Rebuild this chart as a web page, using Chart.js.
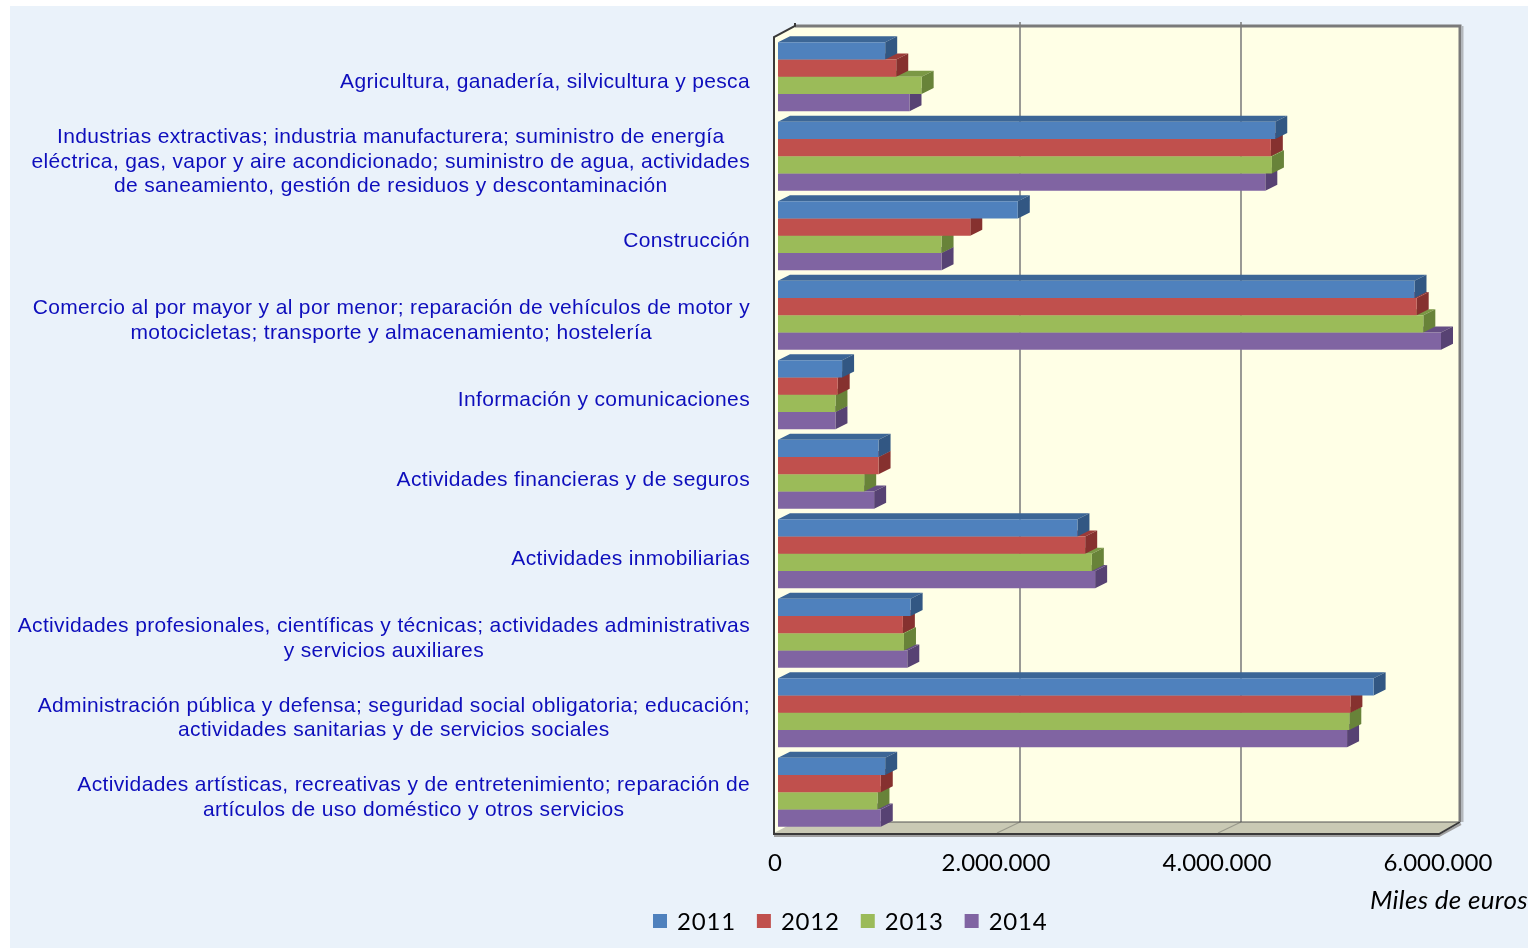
<!DOCTYPE html>
<html>
<head>
<meta charset="utf-8">
<script src="https://cdn.jsdelivr.net/npm/chart.js@4.4.1/dist/chart.umd.min.js"></script>
<style>
html,body{margin:0;padding:0;background:#fff;}
#wrap{width:1528px;height:948px;position:relative;}
canvas{display:block;}
</style>
</head>
<body>
<div id="wrap"><canvas id="c" width="1528" height="948"></canvas></div>
<script>
const categories = [
  ["Agricultura, ganadería, silvicultura y pesca"],
  ["Industrias extractivas; industria manufacturera; suministro de energía",
   "eléctrica, gas, vapor y aire acondicionado; suministro de agua, actividades",
   "de saneamiento, gestión de residuos y descontaminación"],
  ["Construcción"],
  ["Comercio al por mayor y al por menor; reparación de vehículos de motor y",
   "motocicletas; transporte y almacenamiento; hostelería"],
  ["Información y comunicaciones"],
  ["Actividades financieras y de seguros"],
  ["Actividades inmobiliarias"],
  ["Actividades profesionales, científicas y técnicas; actividades administrativas",
   "y servicios auxiliares"],
  ["Administración pública y defensa; seguridad social obligatoria; educación;",
   "actividades sanitarias y de servicios sociales"],
  ["Actividades artísticas, recreativas y de entretenimiento; reparación de",
   "artículos de uso doméstico y otros servicios"]
];
const seriesNames = ["2011", "2012", "2013", "2014"];
const values2011 = [970000, 4500000, 2170000, 5760000, 580000, 910000, 2710000, 1200000, 5390000, 970000];
const values2012 = [1070000, 4460000, 1740000, 5780000, 540000, 910000, 2780000, 1130000, 5180000, 930000];
const values2013 = [1300000, 4470000, 1480000, 5840000, 520000, 780000, 2840000, 1140000, 5170000, 900000];
const values2014 = [1190000, 4410000, 1480000, 6000000, 520000, 870000, 2870000, 1170000, 5150000, 930000];
const xTickValues = [0, 2000000, 4000000, 6000000];
const xTickLabels = ["0", "2.000.000", "4.000.000", "6.000.000"];
const axisUnit = "Miles de euros";

const faceColors = ["#4F81BD", "#C0504D", "#9BBB59", "#8064A2"];
const topColors  = ["#3C6696", "#9B3B39", "#7B9845", "#654E84"];
const sideColors = ["#325783", "#86312F", "#688339", "#574273"];

const DX = 21, DY = 11;     // wall depth
const BDX = 12, BDY = 6;    // bar depth

const bgPlugin = {
  id: 'bg3d',
  beforeDraw(chart) {
    const ctx = chart.ctx, a = chart.chartArea, xs = chart.scales.x;
    ctx.save();
    ctx.fillStyle = '#ffffff';
    ctx.fillRect(0, 0, chart.width, chart.height);
    ctx.fillStyle = '#EAF2FA';
    ctx.fillRect(10, 6, chart.width - 10, chart.height - 6);
    const fl = a.left - 4, ft = a.top, fb = a.bottom + 1;
    const br = xs.getPixelForValue(6000000) + DX - 2;
    ctx.fillStyle = '#FFFFE6';
    ctx.beginPath();
    ctx.moveTo(fl, ft); ctx.lineTo(fl + DX, ft - DY); ctx.lineTo(br, ft - DY);
    ctx.lineTo(br, fb - DY); ctx.lineTo(fl + DX, fb - DY); ctx.lineTo(fl, fb);
    ctx.closePath(); ctx.fill();
    ctx.strokeStyle = '#808080'; ctx.lineWidth = 1.6;
    xTickValues.forEach(v => {
      if (v === 0 || v === 6000000) return;
      const xf = xs.getPixelForValue(v);
      ctx.beginPath();
      ctx.moveTo(xf + DX, ft - DY - 4); ctx.lineTo(xf + DX, fb - DY);
      ctx.stroke();
    });
    ctx.fillStyle = '#C9C9B4';
    ctx.beginPath();
    ctx.moveTo(fl, fb); ctx.lineTo(fl + DX, fb - DY); ctx.lineTo(br, fb - DY);
    ctx.lineTo(br - DX, fb); ctx.closePath(); ctx.fill();
    ctx.strokeStyle = '#9A9A8C'; ctx.lineWidth = 1.2;
    xTickValues.forEach(v => {
      if (v === 0 || v === 6000000) return;
      const xf = xs.getPixelForValue(v);
      ctx.beginPath(); ctx.moveTo(xf - 2, fb); ctx.lineTo(xf + DX, fb - DY); ctx.stroke();
    });
    ctx.strokeStyle = '#555555'; ctx.lineWidth = 1.2;
    ctx.beginPath(); ctx.moveTo(fl + DX, fb - DY); ctx.lineTo(br, fb - DY); ctx.stroke();
    ctx.strokeStyle = '#A0A0A0'; ctx.lineWidth = 2;
    ctx.beginPath(); ctx.moveTo(fl, fb + 3); ctx.lineTo(br - DX, fb + 3); ctx.lineTo(br + 1, fb - DY + 2); ctx.stroke();
    ctx.strokeStyle = '#3A3A3A'; ctx.lineWidth = 2;
    ctx.beginPath(); ctx.moveTo(fl, fb + 1); ctx.lineTo(br - DX, fb + 1); ctx.lineTo(br, fb - DY); ctx.stroke();
    ctx.strokeStyle = '#7A7A7A'; ctx.lineWidth = 3;
    ctx.beginPath(); ctx.moveTo(fl + DX, ft - DY); ctx.lineTo(br, ft - DY); ctx.lineTo(br, fb - DY); ctx.stroke();
    ctx.strokeStyle = '#B4B8BC'; ctx.lineWidth = 2;
    ctx.beginPath(); ctx.moveTo(br + 2.5, ft - DY); ctx.lineTo(br + 2.5, fb - DY); ctx.stroke();
    ctx.strokeStyle = '#3A3A3A'; ctx.lineWidth = 2;
    ctx.beginPath(); ctx.moveTo(fl + DX, ft - DY - 3); ctx.lineTo(fl + DX, ft - DY); ctx.lineTo(fl, ft); ctx.lineTo(fl, fb + 2); ctx.stroke();
    ctx.restore();
  },
  beforeDatasetsDraw(chart) {
    const ctx = chart.ctx;
    ctx.save();
    for (let d = chart.data.datasets.length - 1; d >= 0; d--) {
      const meta = chart.getDatasetMeta(d);
      meta.data.forEach(el => {
        const p = el.getProps(['x', 'y', 'base', 'height'], true);
        const top = p.y - p.height / 2, bot = p.y + p.height / 2;
        ctx.fillStyle = topColors[d];
        ctx.beginPath();
        ctx.moveTo(p.base, top); ctx.lineTo(p.base + BDX, top - BDY);
        ctx.lineTo(p.x + BDX, top - BDY); ctx.lineTo(p.x, top); ctx.closePath(); ctx.fill();
        ctx.fillStyle = sideColors[d];
        ctx.beginPath();
        ctx.moveTo(p.x, top); ctx.lineTo(p.x + BDX, top - BDY);
        ctx.lineTo(p.x + BDX, bot - BDY); ctx.lineTo(p.x, bot); ctx.closePath(); ctx.fill();
      });
    }
    ctx.restore();
  },
  afterDraw(chart) {
    const ctx = chart.ctx, ys = chart.scales.y;
    ctx.save();
    ctx.font = '21px "Liberation Sans", Arial, sans-serif';
    ctx.letterSpacing = '0.35px';
    ctx.fillStyle = '#0E0EBC';
    ctx.textAlign = 'center';
    ctx.textBaseline = 'middle';
    const lh = 24.5, right = 750;
    categories.forEach((lines, i) => {
      const yc = ys.getPixelForValue(i) + 5.5;
      const w = Math.max(...lines.map(s => ctx.measureText(s).width));
      const cx = right - w / 2;
      lines.forEach((s, k) => {
        ctx.fillText(s, cx, yc + (k - (lines.length - 1) / 2) * lh);
      });
    });
    ctx.letterSpacing = '0.3px';
    ctx.font = 'italic 26px Lato, "Open Sans", sans-serif';
    ctx.fillStyle = '#000000';
    ctx.textAlign = 'left';
    ctx.fillText(axisUnit, 1370, 901);
    ctx.font = '24px Lato, "Open Sans", sans-serif';
    ctx.letterSpacing = '0.8px';
    let x = 653;
    chart.data.datasets.forEach((ds, i) => {
      ctx.fillStyle = ds.backgroundColor;
      ctx.fillRect(x, 914, 14, 14);
      x += 24;
      ctx.fillStyle = '#000000';
      ctx.fillText(ds.label, x, 922);
      x += ctx.measureText(ds.label).width + 21;
    });
    ctx.restore();
  }
};

const seriesValues = [values2011, values2012, values2013, values2014];

new Chart(document.getElementById('c'), {
  type: 'bar',
  data: {
    labels: categories,
    datasets: seriesNames.map((n, i) => ({
      label: n,
      data: seriesValues[i],
      backgroundColor: faceColors[i],
      borderWidth: 0,
      categoryPercentage: 0.87,
      barPercentage: 1.0
    }))
  },
  options: {
    indexAxis: 'y',
    responsive: false,
    animation: false,
    devicePixelRatio: 1,
    layout: { padding: { left: 0, top: 37, right: 87, bottom: 66 } },
    plugins: { legend: { display: false }, tooltip: { enabled: false } },
    scales: {
      x: {
        min: 0, max: 6000000,
        afterBuildTicks(scale) { scale.ticks = xTickValues.map(v => ({ value: v })); },
        afterFit(scale) { scale.height = 50; },
        grid: { display: false, drawTicks: false },
        border: { display: false },
        ticks: {
          padding: 17,
          labelOffset: -3,
          color: '#000000',
          font: { family: 'Lato, "Open Sans", sans-serif', size: 24 },
          callback: (v, i) => xTickLabels[i]
        }
      },
      y: {
        afterFit(scale) { scale.width = 778; },
        grid: { display: false, drawTicks: false },
        border: { display: false },
        ticks: { display: false }
      }
    }
  },
  plugins: [bgPlugin]
});
</script>
</body>
</html>
